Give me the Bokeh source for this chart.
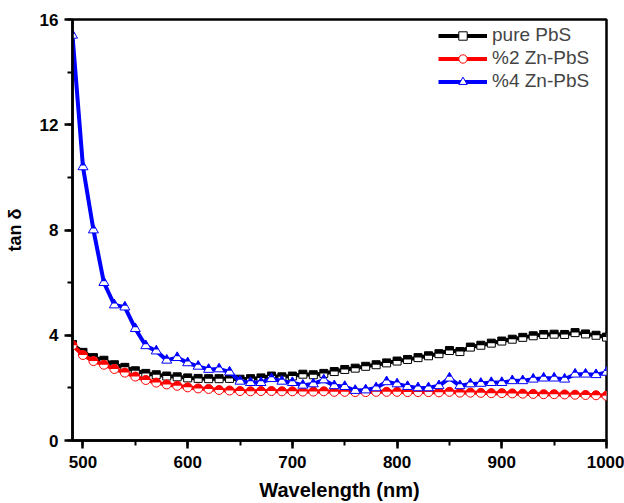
import numpy as np
from bokeh.plotting import figure
from bokeh.models import Range1d, SingleIntervalTicker, Legend, LegendItem
from bokeh.embed import file_html
from bokeh.resources import INLINE

# ---------------- data ----------------
wavelength = list(range(490, 1001, 10))

pure_pbs = [3.65, 3.35, 3.15, 3.05, 2.88, 2.78, 2.65, 2.55, 2.50, 2.45,
            2.42, 2.38, 2.36, 2.35, 2.35, 2.36, 2.33, 2.35, 2.38, 2.45,
            2.42, 2.45, 2.52, 2.50, 2.55, 2.62, 2.70, 2.75, 2.82, 2.88,
            2.95, 3.02, 3.08, 3.15, 3.22, 3.30, 3.42, 3.38, 3.55, 3.62,
            3.70, 3.78, 3.85, 3.92, 3.98, 4.03, 4.04, 4.03, 4.10, 4.05,
            4.00, 3.93]

zn2_pbs = [3.62, 3.25, 3.02, 2.88, 2.72, 2.58, 2.43, 2.30, 2.20, 2.13,
           2.08, 2.02, 1.98, 1.96, 1.92, 1.90, 1.88, 1.87, 1.88, 1.88,
           1.87, 1.87, 1.86, 1.86, 1.87, 1.85, 1.85, 1.84, 1.84, 1.85,
           1.85, 1.85, 1.84, 1.84, 1.84, 1.83, 1.85, 1.82, 1.82, 1.81,
           1.80, 1.80, 1.79, 1.78, 1.77, 1.76, 1.76, 1.75, 1.74, 1.73,
           1.72, 1.70]

zn4_pbs = [15.4, 10.4, 8.0, 6.0, 5.15, 5.07, 4.25, 3.6, 3.4, 3.05,
           3.15, 2.95, 2.82, 2.70, 2.72, 2.60, 2.25, 2.20, 2.20, 2.35,
           2.25, 2.20, 2.10, 2.15, 2.30, 2.08, 2.05, 1.90, 1.92, 2.00,
           2.23, 2.15, 2.05, 2.00, 2.00, 2.08, 2.37, 2.08, 2.15, 2.17,
           2.20, 2.20, 2.27, 2.27, 2.33, 2.37, 2.37, 2.33, 2.52, 2.52,
           2.50, 2.59]

labels = ["pure PbS", "%2 Zn-PbS", "%4 Zn-PbS"]
x_ticks_interval = 100
y_ticks_interval = 4

# ---------------- figure ----------------
W, H = 624, 503
BL, BR, BT, BB = 72, 18, 19, 63
inner_h = H - BT - BB
Y0, Y1 = 0, 16

p = figure(width=W, height=H, x_range=Range1d(490, 1000), y_range=Range1d(Y0, Y1),
           output_backend="svg", toolbar_location=None,
           min_border_left=BL, min_border_right=BR, min_border_top=BT, min_border_bottom=BB)
p.background_fill_color = "white"
p.border_fill_color = "white"
p.xgrid.visible = False
p.ygrid.visible = False
p.outline_line_color = "black"
p.outline_line_width = 2.5

def shifted(px):
    d = px * (Y1 - Y0) / inner_h
    return Range1d(Y0 - d, Y1 - d)

SQ, CI, TR = 8, 9, 10
p.extra_y_ranges = {"sq": shifted(SQ / 4), "tri": shifted(0.2887 * TR)}

font = "Liberation Sans"
for ax in (p.xaxis[0], p.yaxis[0]):
    ax.axis_line_width = 2.5
    ax.major_tick_line_width = 2.5
    ax.minor_tick_line_width = 2
    ax.major_tick_in = 0
    ax.major_tick_out = 8
    ax.minor_tick_in = 0
    ax.minor_tick_out = 5
    ax.major_label_text_font = font
    ax.major_label_text_font_style = "bold"
    ax.major_label_text_font_size = "17px"
    ax.major_label_text_color = "black"
    ax.axis_label_text_font = font
    ax.axis_label_text_font_style = "bold"
    ax.axis_label_text_color = "black"

p.xaxis[0].ticker = SingleIntervalTicker(interval=x_ticks_interval, num_minor_ticks=2)
p.yaxis[0].ticker = SingleIntervalTicker(interval=y_ticks_interval, num_minor_ticks=2)
p.xaxis[0].axis_label = "Wavelength (nm)"
p.xaxis[0].axis_label_text_font_size = "20px"
p.xaxis[0].major_label_standoff = 7
p.xaxis[0].axis_label_standoff = 8
p.yaxis[0].axis_label = "tan δ"
p.yaxis[0].axis_label_text_font_size = "18px"
p.yaxis[0].major_label_standoff = 6
p.yaxis[0].axis_label_standoff = 12

items = []

# pure PbS : black half-filled squares
l1 = p.line(wavelength, pure_pbs, line_color="black", line_width=4)
m1 = p.scatter(wavelength, pure_pbs, marker="square", size=SQ, fill_color="white",
               line_color="black", line_width=1)
p.rect(wavelength, pure_pbs, width=SQ, height=SQ / 2, width_units="screen",
       height_units="screen", fill_color="black", line_color=None, y_range_name="sq")
items.append(LegendItem(label=labels[0], renderers=[l1, m1]))

# %2 Zn-PbS : red half-filled circles
l2 = p.line(wavelength, zn2_pbs, line_color="#ff0000", line_width=4)
m2 = p.scatter(wavelength, zn2_pbs, marker="circle", size=CI, fill_color="white",
               line_color="#ff0000", line_width=1)
p.wedge(wavelength, zn2_pbs, radius=CI / 2, radius_units="screen", start_angle=0,
        end_angle=np.pi, fill_color="#ff0000", line_color=None)
items.append(LegendItem(label=labels[1], renderers=[l2, m2]))

# %4 Zn-PbS : blue half-filled triangles
l3 = p.line(wavelength, zn4_pbs, line_color="#0000ff", line_width=4)
m3 = p.scatter(wavelength, zn4_pbs, marker="triangle", size=TR, fill_color="white",
               line_color="#0000ff", line_width=1)
p.scatter(wavelength, zn4_pbs, marker="triangle", size=TR / 2, fill_color="#0000ff",
          line_color=None, y_range_name="tri")
items.append(LegendItem(label=labels[2], renderers=[l3, m3]))

legend = Legend(items=items, location="top_right", margin=0, padding=5,
                glyph_width=49, glyph_height=21, label_height=21, label_width=109,
                label_standoff=5, spacing=1,
                label_text_font=font, label_text_font_size="19px",
                border_line_alpha=0, background_fill_alpha=0)
p.add_layout(legend)

open("out.html", "w").write(file_html(p, INLINE))
